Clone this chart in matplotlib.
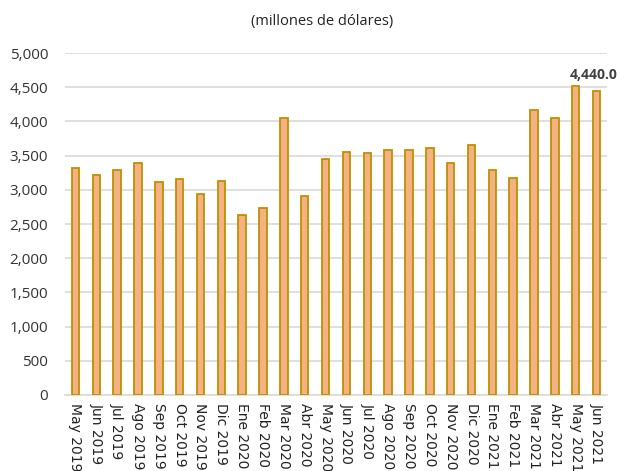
import matplotlib
matplotlib.use("Agg")
import matplotlib.pyplot as plt

months = ["May 2019", "Jun 2019", "Jul 2019", "Ago 2019", "Sep 2019", "Oct 2019",
          "Nov 2019", "Dic 2019", "Ene 2020", "Feb 2020", "Mar 2020", "Abr 2020",
          "May 2020", "Jun 2020", "Jul 2020", "Ago 2020", "Sep 2020", "Oct 2020",
          "Nov 2020", "Dic 2020", "Ene 2021", "Feb 2021", "Mar 2021", "Abr 2021",
          "May 2021", "Jun 2021"]
values = [3323, 3221, 3294, 3396, 3114, 3158, 2934, 3129, 2632, 2739, 4045, 2914,
          3446, 3548, 3533, 3582, 3582, 3611, 3396, 3650, 3294, 3173, 4167, 4055,
          4523, 4440]
yticks = [0, 500, 1000, 1500, 2000, 2500, 3000, 3500, 4000, 4500, 5000]
title = "(millones de dólares)"
last_label = "4,440.0"

fig = plt.figure(figsize=(6.2, 4.71), dpi=100)
ax = fig.add_axes([65/620, 76/471, (607-65)/620, (395-53)/471])

x = list(range(len(months)))
ax.bar(x, values, width=0.36, color="#F4B183", edgecolor="#BF9000", linewidth=1.3, zorder=3)

ax.set_xlim(-0.5, len(months) - 0.5)
ax.set_ylim(0, 5000)
ax.set_yticks(yticks)
ax.set_yticklabels([f"{v:,}" for v in yticks], fontsize=11, color="#333333",
                   family=["Open Sans"])
ax.yaxis.grid(True, color="#D9D9D9", linewidth=1.2, zorder=0)
ax.set_axisbelow(True)
ax.tick_params(axis="y", length=0, pad=12)
ax.set_xticks(x)
ax.set_xticklabels(months, rotation=270, fontsize=10, color="#222222", va="top", ha="center")
ax.tick_params(axis="x", length=0, pad=6)
for s in ["top", "right", "left"]:
    ax.spines[s].set_visible(False)
ax.spines["bottom"].set_color("#D9D9D9")
ax.spines["bottom"].set_linewidth(1.2)

ax.annotate(last_label, xy=(x[-1], values[-1]), xytext=(-2, 7), textcoords="offset points",
            ha="center", va="bottom", fontsize=10, fontweight="bold", color="#404040",
            family=["Open Sans"])

fig.text(322/620, 1 - 22/471, title, ha="center", va="center", fontsize=10.5,
         color="#222222", family=["Open Sans"])

fig.savefig("out.png", dpi=100)
